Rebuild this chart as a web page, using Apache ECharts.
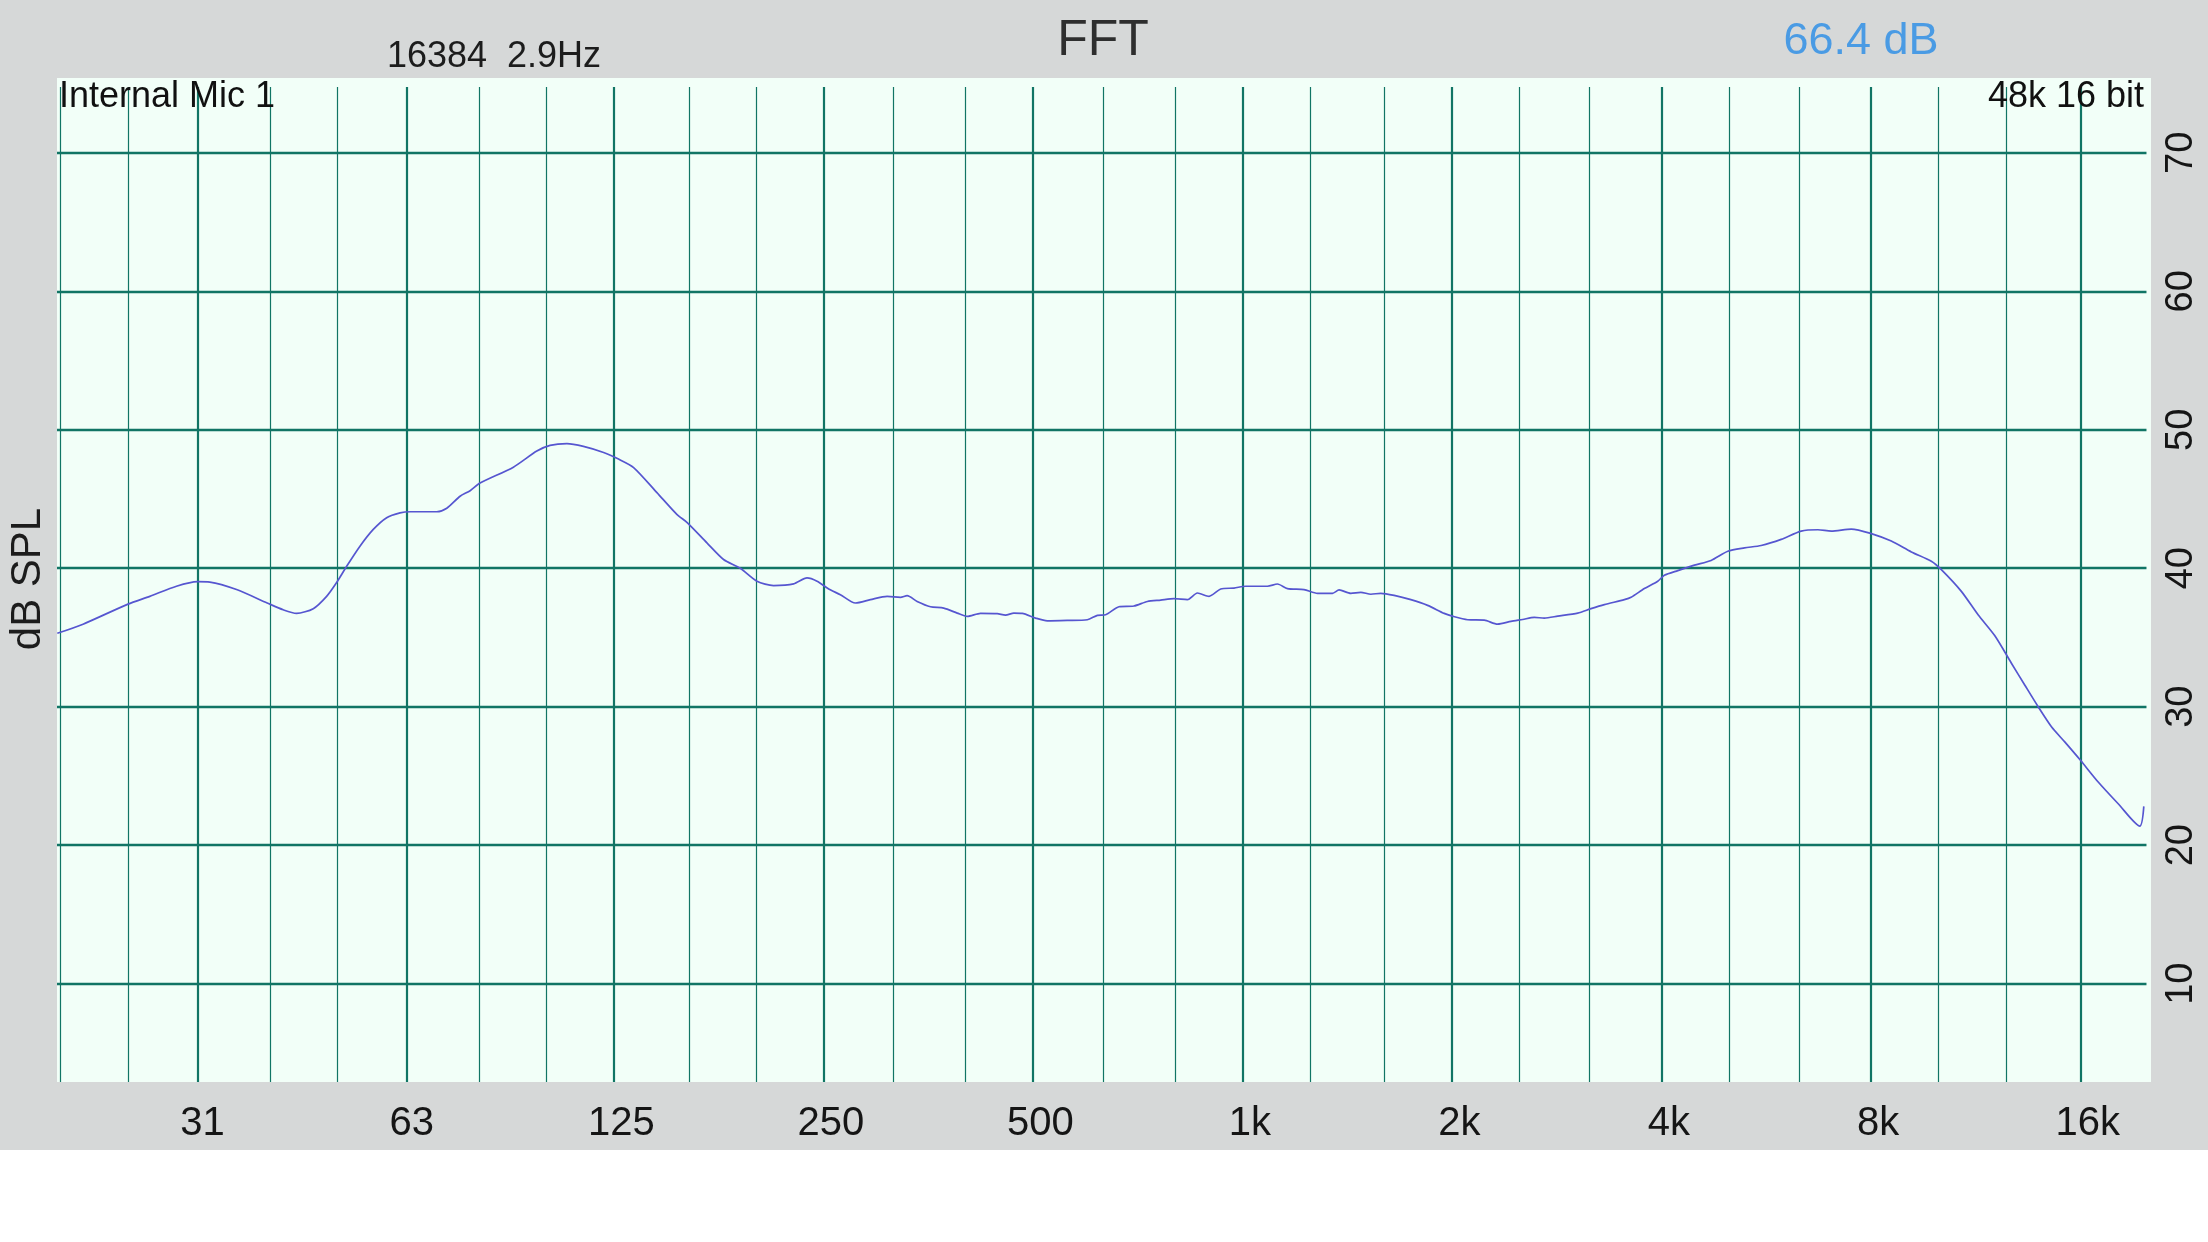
<!DOCTYPE html>
<html>
<head>
<meta charset="utf-8">
<script src="https://cdn.jsdelivr.net/npm/echarts@6/dist/echarts.min.js"></script>
<style>
  html, body { margin: 0; padding: 0; background: #ffffff; }
  #chart { width: 2208px; height: 1242px; }
</style>
</head>
<body>
<div id="chart"></div>
<script>
// ---- data (frequency in Hz, level in dB SPL) ----
const freqHz = [19.8, 21.56, 25.02, 26.89, 29.37, 31.49, 32.8, 35.83, 39.65, 41.81, 43.7, 46.18, 48.27, 49.84,
  51.58, 53.9, 56.33, 58.88, 61.54, 63.75, 69.49, 71.84, 75.07, 77.6, 80.2, 89.55, 96.77, 101.1, 106.9, 112.9,
  120.7, 126.8, 133.3, 144.0, 153.8, 159.3, 169.9, 179.5, 189.7, 200.5, 211.8, 226.4, 236.6, 244.6, 254.2, 264.2,
  277.7, 291.8, 308.4, 322.3, 329.5, 340.6, 356.0, 372.0, 388.9, 402.0, 420.1, 444.0, 456.3, 469.1, 482.3, 504.0,
  523.9, 559.8, 598.2, 618.4, 635.5, 664.1, 697.9, 729.6, 762.5, 796.8, 833.0, 861.0, 894.7, 930.1, 971.9, 1010.3,
  1085.5, 1122.1, 1159.9, 1225.4, 1281.1, 1346.3, 1376.0, 1430.4, 1478.6, 1528.5, 1580.0, 1651.0, 1744.8, 1844.1,
  1948.3, 2007.3, 2105.6, 2224.5, 2325.3, 2430.2, 2526.1, 2625.0, 2713.4, 2836.6, 3030.9, 3167.4, 3310.0, 3536.5,
  3615.8, 3778.4, 3949.9, 4037.1, 4220.5, 4458.6, 4712.2, 4980.2, 5261.9, 5560.9, 5941.9, 6348.6, 6709.6, 7012.2,
  7492.7, 8005.6, 8553.5, 9139.1, 9764.8, 10094, 10785, 11399, 12043, 12728, 13301, 13905, 14531, 15185, 15996,
  16962, 18123, 19465, 19725];
const splDb = [35.3, 35.96, 37.41, 37.97, 38.7, 39.03, 39.0, 38.46, 37.49, 37.0, 36.74, 37.08, 37.97, 38.93,
  40.14, 41.59, 42.8, 43.65, 44.0, 44.08, 44.08, 44.33, 45.2, 45.6, 46.15, 47.3, 48.46, 48.87, 49.0, 48.8,
  48.36, 47.88, 47.27, 45.46, 43.89, 43.28, 41.83, 40.63, 40.0, 39.06, 38.75, 38.87, 39.3, 39.06, 38.5, 38.09,
  37.49, 37.73, 37.97, 37.9, 38.02, 37.6, 37.22, 37.12, 36.76, 36.52, 36.74, 36.72, 36.62, 36.76, 36.74, 36.4,
  36.2, 36.23, 36.28, 36.6, 36.64, 37.22, 37.27, 37.6, 37.7, 37.8, 37.73, 38.21, 37.97, 38.5, 38.57, 38.7,
  38.7, 38.86, 38.53, 38.46, 38.19, 38.19, 38.43, 38.19, 38.26, 38.12, 38.19, 38.04, 37.73, 37.32,
  36.74, 36.52, 36.28, 36.25, 35.96, 36.16, 36.3, 36.45, 36.4, 36.54, 36.76, 37.08, 37.37, 37.73,
  37.9, 38.53, 39.06, 39.49, 39.83, 40.22, 40.56, 41.23, 41.47, 41.64, 42.08, 42.68, 42.78, 42.68,
  42.83, 42.5, 41.96, 41.18, 40.51, 39.9, 38.33, 36.64, 35.14, 33.14, 31.57, 30.0, 28.55, 27.46, 26.13,
  24.56, 22.99, 21.38, 22.8];

// ---- axes / grid values ----
const xMinHz = 19.78, xMaxHz = 20200;
const yMinDb = 2.9, yMaxDb = 75.4;
const xTickLabels = ['31', '63', '125', '250', '500', '1k', '2k', '4k', '8k', '16k']; // octave ticks 2^5 .. 2^14
const yGridDb = [10, 20, 30, 40, 50, 60, 70];
const thirdOctaveHz = [20, 25, 31.5, 40, 50, 63, 80, 100, 125, 160, 200, 250, 315, 400, 500, 630, 800, 1000,
  1250, 1600, 2000, 2500, 3150, 4000, 5000, 6300, 8000, 10000, 12500, 16000];
const octaveHz = [31.5, 63, 125, 250, 500, 1000, 2000, 4000, 8000, 16000];
const vLineTopDb = 74.75, hLineEndHz = 19900;

// ---- texts ----
const titleText = 'FFT';
const fftInfoText = '16384  2.9Hz';
const levelText = '66.4 dB';
const inputText = 'Internal Mic 1';
const formatText = '48k 16 bit';
const yAxisTitle = 'dB SPL';

const GRID = '#117565';
const FONT = '"Liberation Sans", Arial, Helvetica, sans-serif';

const chart = echarts.init(document.getElementById('chart'), null, { renderer: 'canvas' });

const vLines = thirdOctaveHz.map(f => {
  const major = octaveHz.indexOf(f) >= 0;
  return [
    { coord: [f, vLineTopDb], lineStyle: { color: GRID, width: major ? 2.2 : 1.2, type: 'solid' } },
    { coord: [f, yMinDb] }
  ];
});
const hLines = yGridDb.map(v => [
  { coord: [xMinHz, v], lineStyle: { color: GRID, width: 2.4, type: 'solid' } },
  { coord: [hLineEndHz, v] }
]);

const option = {
  backgroundColor: '#d6d8d8',
  animation: false,
  grid: {
    left: 57, right: 57, top: 78, bottom: 160,
    show: true, backgroundColor: '#f2fff8', borderWidth: 0
  },
  xAxis: {
    type: 'log', logBase: 2, min: xMinHz, max: xMaxHz, splitNumber: 10,
    axisLine: { show: false }, axisTick: { show: false }, splitLine: { show: false }, minorSplitLine: { show: false },
    axisLabel: {
      show: true, margin: 22, fontSize: 40, color: '#151515', fontFamily: FONT,
      showMinLabel: false, showMaxLabel: false,
      formatter: v => {
        const i = Math.round(Math.log2(v)) - 5;
        return (i >= 0 && i < xTickLabels.length) ? xTickLabels[i] : '';
      }
    }
  },
  yAxis: {
    type: 'value', position: 'right', min: yMinDb, max: yMaxDb, minInterval: 10, maxInterval: 10,
    axisLine: { show: false }, axisTick: { show: false }, splitLine: { show: false },
    axisLabel: {
      show: true, rotate: 90, margin: 12, fontSize: 38, color: '#151515', fontFamily: FONT,
      showMinLabel: false, showMaxLabel: false
    }
  },
  graphic: [
    { type: 'rect', shape: { x: 0, y: 1150, width: 2208, height: 92 }, style: { fill: '#ffffff' }, silent: true },
    { type: 'text', x: 494, y: 57, style: { text: fftInfoText, fontSize: 36, fontFamily: FONT, fill: '#1c1c1c', align: 'center', verticalAlign: 'middle' } },
    { type: 'text', x: 1103, y: 41, style: { text: titleText, fontSize: 50, fontFamily: FONT, fill: '#2e2e2e', align: 'center', verticalAlign: 'middle' } },
    { type: 'text', x: 1861, y: 42, style: { text: levelText, fontSize: 45, fontFamily: FONT, fill: '#4a9be4', align: 'center', verticalAlign: 'middle' } },
    { type: 'text', x: 59, y: 97, z: 10, style: { text: inputText, fontSize: 36, fontFamily: FONT, fill: '#111111', align: 'left', verticalAlign: 'middle' } },
    { type: 'text', x: 2144, y: 97, z: 10, style: { text: formatText, fontSize: 36, fontFamily: FONT, fill: '#111111', align: 'right', verticalAlign: 'middle' } },
    { type: 'text', x: 28, y: 579, rotation: Math.PI / 2, style: { text: yAxisTitle, fontSize: 42, fontFamily: FONT, fill: '#1c1c1c', align: 'center', verticalAlign: 'middle' } }
  ],
  series: [
    {
      type: 'line', name: 'grid', data: [], z: 1, silent: true,
      markLine: {
        silent: true, symbol: 'none', animation: false,
        label: { show: false }, emphasis: { disabled: true },
        data: vLines.concat(hLines)
      }
    },
    {
      type: 'line', name: 'FFT', z: 5, silent: true,
      data: freqHz.map((f, i) => [f, splDb[i]]),
      showSymbol: false, smooth: 0.25,
      lineStyle: { color: '#5656d0', width: 1.7 }
    }
  ]
};
chart.setOption(option);
</script>
</body>
</html>
